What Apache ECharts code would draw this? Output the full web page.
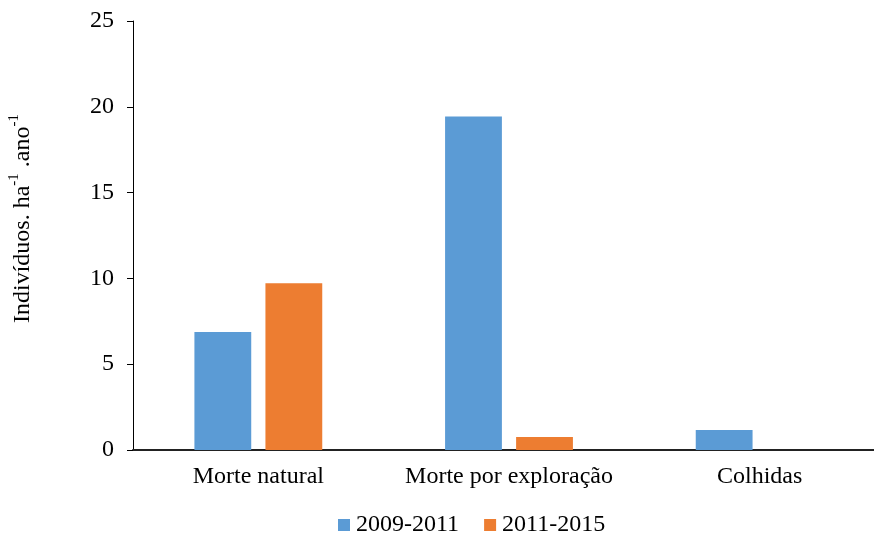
<!DOCTYPE html>
<html>
<head>
<meta charset="utf-8">
<script src="https://cdn.jsdelivr.net/npm/echarts@6/dist/echarts.min.js"></script>
<style>
  html, body { margin: 0; padding: 0; background: #fff; }
  #chart { width: 874px; height: 533px; }
</style>
</head>
<body>
<div id="chart"></div>
<script>
// Categories and series values
const categories = ['Morte natural', 'Morte por exploração', 'Colhidas'];
const seriesNames = ['2009-2011', '2011-2015'];
const values2009 = [6.88, 19.43, 1.17];
const values2011 = [9.72, 0.76, 0];
const yTicks = [0, 5, 10, 15, 20, 25];

const FONT = '"Liberation Serif", "Times New Roman", serif';
const chart = echarts.init(document.getElementById('chart'));

chart.setOption({
  animation: false,
  textStyle: { fontFamily: FONT, color: '#000' },
  grid: {
    left: 133, top: 21, width: 752, height: 429,
    containLabel: false, outerBoundsMode: 'none'
  },
  legend: {
    data: seriesNames,
    top: 508,
    left: 333,
    itemWidth: 12,
    itemHeight: 12,
    itemGap: 25,
    icon: 'rect',
    textStyle: { fontFamily: FONT, fontSize: 24, color: '#000', padding: [0, 0, 0, 1] }
  },
  xAxis: {
    type: 'category',
    data: categories,
    axisLine: { lineStyle: { color: '#222', width: 2 } },
    axisTick: { show: false },
    axisLabel: { interval: 0, fontFamily: FONT, fontSize: 24, color: '#000', margin: 15 }
  },
  yAxis: {
    type: 'value',
    min: yTicks[0],
    max: yTicks[yTicks.length - 1],
    interval: 5,
    splitLine: { show: false },
    axisLine: { show: true, lineStyle: { color: '#000', width: 1 } },
    axisTick: { show: true, inside: false, length: 6, lineStyle: { color: '#000' } },
    axisLabel: { fontFamily: FONT, fontSize: 24, color: '#000', margin: 19 },
    name: '{m|Indivíduos. ha}{s|-1}{m| .ano}{s|-1}',
    nameLocation: 'middle',
    nameGap: 98,
    nameTextStyle: {
      padding: [0, 0, 0, 34],
      rich: {
        m: { fontFamily: FONT, fontSize: 24, color: '#000', verticalAlign: 'bottom', lineHeight: 28 },
        s: { fontFamily: FONT, fontSize: 15, color: '#000', verticalAlign: 'top', lineHeight: 28 }
      }
    }
  },
  series: [
    {
      name: seriesNames[0],
      type: 'bar',
      data: values2009,
      itemStyle: { color: '#5B9BD5' },
      barGap: '25%',
      barCategoryGap: '49%'
    },
    {
      name: seriesNames[1],
      type: 'bar',
      data: values2011,
      itemStyle: { color: '#ED7D31' }
    }
  ]
});
</script>
</body>
</html>
